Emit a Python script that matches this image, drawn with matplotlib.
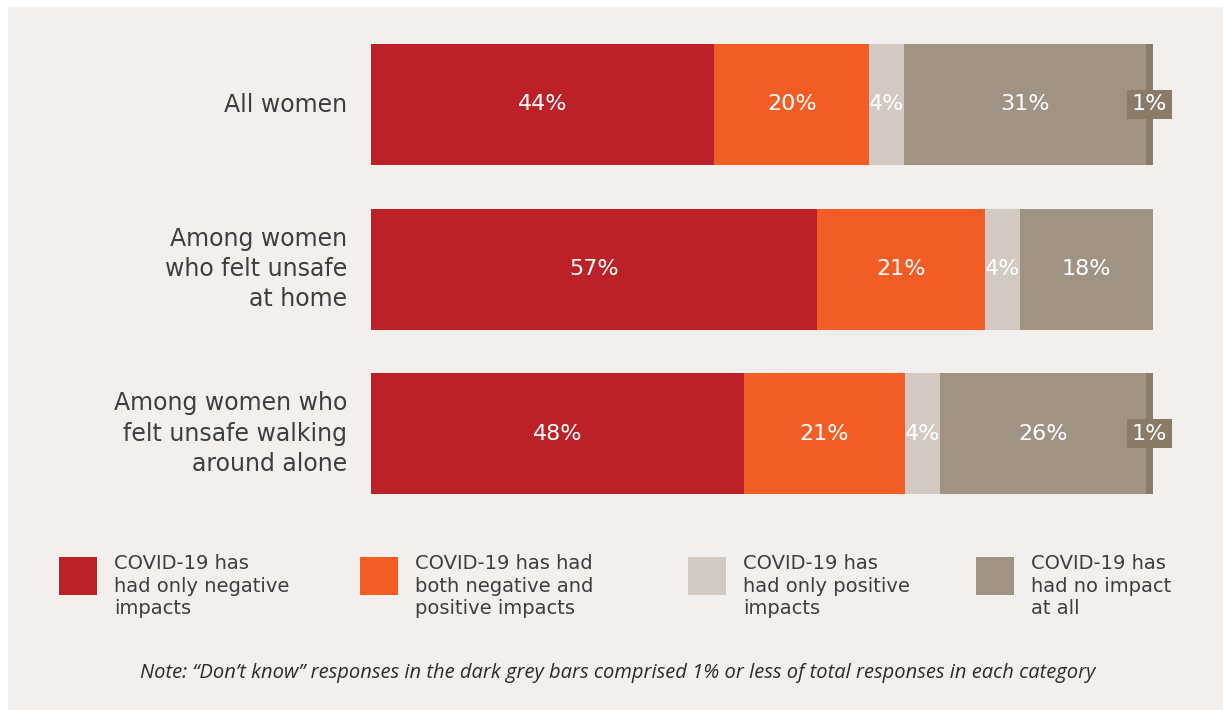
"""COVID-19 impact on women, stacked horizontal bars with custom legend block."""

import matplotlib

matplotlib.use("Agg")
import matplotlib.pyplot as plt
from matplotlib.patches import Rectangle

OUT_PATH = "out.png"
W_PX, H_PX, DPI = 1223, 710, 100

CATEGORIES = [
    "All women",
    "Among women\nwho felt unsafe\nat home",
    "Among women who\nfelt unsafe walking\naround alone",
]
# segment widths (percent of row)
NEG_ONLY = [43.9, 57.0, 47.7]
BOTH = [19.8, 21.5, 20.6]
POS_ONLY = [4.5, 4.5, 4.5]
NO_IMPACT = [30.9, 17.0, 26.3]
DONT_KNOW = [0.9, 0.0, 0.9]

NEG_LABELS = ["44%", "57%", "48%"]
BOTH_LABELS = ["20%", "21%", "21%"]
POS_LABELS = ["4%", "4%", "4%"]
NONE_LABELS = ["31%", "18%", "26%"]
DK_LABELS = ["1%", "", "1%"]

LEGEND_TEXT = [
    "COVID-19 has\nhad only negative\nimpacts",
    "COVID-19 has had\nboth negative and\npositive impacts",
    "COVID-19 has\nhad only positive\nimpacts",
    "COVID-19 has\nhad no impact\nat all",
]
NOTE = ("Note: \u201cDon\u2019t know\u201d responses in the dark grey bars comprised 1% "
        "or less of total responses in each category")

RED = "#bc2127"
ORANGE = "#f15d24"
LIGHT = "#d1c9c2"
TAUPE = "#a09383"
DARK = "#8a7a68"
PANEL = "#f3efec"
TEXT = "#3e3d3f"

# layout in pixels (from top-left)
BAR_LEFT, BAR_RIGHT = 371, 1153
AX_TOP, AX_BOTTOM = 22.25, 515.75
LEGEND_X = [59, 360, 688, 976]
LEGEND_Y = 557
SWATCH = 38


def fx(px):
    return px / W_PX


def fy(py):
    return 1 - py / H_PX


def main() -> None:
    plt.rcParams.update({"font.family": "DejaVu Sans"})
    fig = plt.figure(figsize=(W_PX / DPI, H_PX / DPI), dpi=DPI, facecolor="white")
    fig.patches.append(
        Rectangle((fx(8), 0), 1 - fx(8), fy(7), transform=fig.transFigure,
                  facecolor=PANEL, edgecolor="none", zorder=-10)
    )

    ax = fig.add_axes([fx(BAR_LEFT), fy(AX_BOTTOM), fx(BAR_RIGHT - BAR_LEFT),
                       (AX_BOTTOM - AX_TOP) / H_PX])
    ax.set_facecolor("none")
    ypos = list(range(len(CATEGORIES)))
    height = 121 / 164.5

    series = [
        (NEG_ONLY, RED, NEG_LABELS),
        (BOTH, ORANGE, BOTH_LABELS),
        (POS_ONLY, LIGHT, POS_LABELS),
        (NO_IMPACT, TAUPE, NONE_LABELS),
    ]
    left = [0.0] * len(CATEGORIES)
    for vals, color, labels in series:
        bars = ax.barh(ypos, vals, left=left, height=height, color=color, edgecolor="none")
        ax.bar_label(bars, labels=labels, label_type="center", color="white", fontsize=16)
        left = [a + b for a, b in zip(left, vals)]

    bars = ax.barh(ypos, DONT_KNOW, left=left, height=height, color=DARK, edgecolor="none")
    ax.bar_label(bars, labels=DK_LABELS, label_type="center", color="white", fontsize=16,
                 bbox=dict(boxstyle="square,pad=0.2", facecolor=DARK, edgecolor="none"))

    ax.set_xlim(0, 100)
    ax.set_ylim(len(CATEGORIES) - 0.5, -0.5)
    ax.set_xticks([])
    ax.set_yticks(ypos, CATEGORIES)
    ax.tick_params(axis="y", length=0, pad=17.3, labelsize=17, labelcolor=TEXT)
    for lbl in ax.get_yticklabels():
        lbl.set_va("center")
        lbl.set_linespacing(1.33)
    for s in ax.spines.values():
        s.set_visible(False)

    # legend block
    colors = [RED, ORANGE, LIGHT, TAUPE]
    for x, color, text in zip(LEGEND_X, colors, LEGEND_TEXT):
        fig.patches.append(
            Rectangle((fx(x), fy(LEGEND_Y + SWATCH)), SWATCH / W_PX, SWATCH / H_PX,
                      transform=fig.transFigure, facecolor=color, edgecolor="none")
        )
        fig.text(fx(x + SWATCH + 17), fy(LEGEND_Y - 3), text, ha="left", va="top",
                 fontsize=14, color=TEXT, linespacing=1.24)

    fig.text(fx(618), fy(673), NOTE, ha="center", va="center", fontsize=14.5,
             style="italic", color="#2b2b2b",
             family=["Liberation Sans Narrow", "Open Sans", "DejaVu Sans"])

    fig.savefig(OUT_PATH, dpi=DPI, facecolor="white")
    plt.close(fig)


if __name__ == "__main__":
    main()
